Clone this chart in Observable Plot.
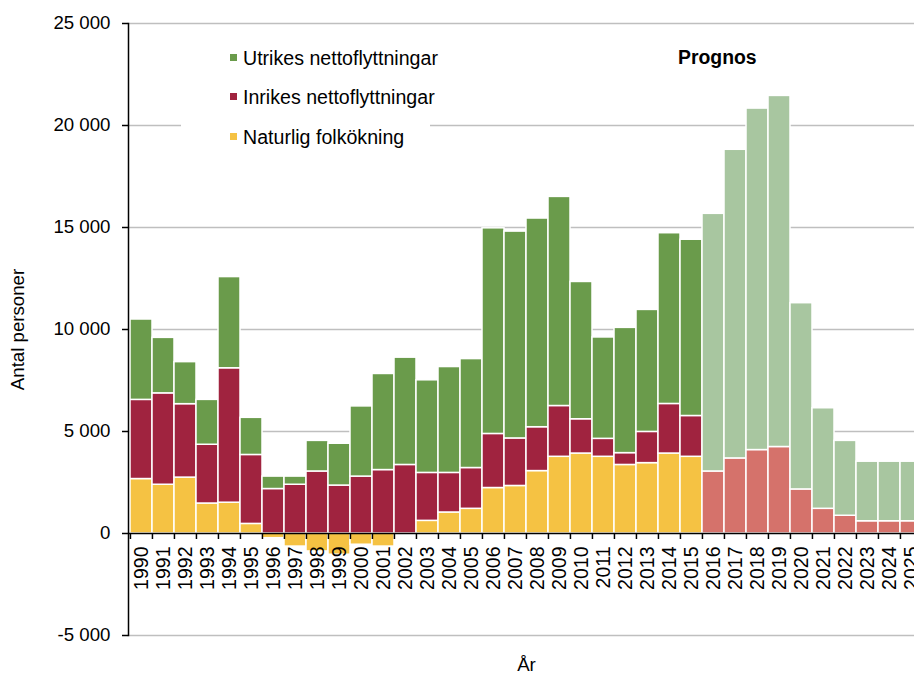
<!DOCTYPE html>
<html>
<head>
<meta charset="utf-8">
<script src="https://cdn.jsdelivr.net/npm/d3@7"></script>
<script src="https://cdn.jsdelivr.net/npm/@observablehq/plot@0.6"></script>
<style>
  html, body { margin: 0; padding: 0; background: white; overflow: hidden; }
  #wrap { position: relative; width: 924px; height: 675px; font-family: "Liberation Sans", Arial, sans-serif; }
  #legend { position: absolute; left: 181px; top: 36px; width: 249px; height: 124px; background: white; }
  .lg { position: absolute; left: 62px; font-size: 19.6px; line-height: 22px; white-space: nowrap; color: #000; }
  .sw { position: absolute; left: -13px; top: 7px; width: 7px; height: 7px; }
  #prognos { position: absolute; left: 678px; top: 46px; font-size: 19.4px; font-weight: bold; color: #000; }
</style>
</head>
<body>
<div id="wrap">
  <div id="chart"></div>
  <div id="legend"></div>
  <div id="prognos">Prognos</div>
</div>
<script>
// Categories (years)
const years = ["1990","1991","1992","1993","1994","1995","1996","1997","1998","1999",
  "2000","2001","2002","2003","2004","2005","2006","2007","2008","2009",
  "2010","2011","2012","2013","2014","2015","2016","2017","2018","2019",
  "2020","2021","2022","2023","2024","2025"];
const histYears = years.slice(0, 26);
const progYears = years.slice(26);

// Historical series 1990-2015
const naturlig = [2670, 2390, 2740, 1470, 1510, 470, -230, -640, -880, -1040,
  -550, -640, 0, 620, 1030, 1210, 2230, 2330, 3060, 3760,
  3920, 3760, 3360, 3450, 3920, 3760];
const inrikes = [3880, 4480, 3600, 2880, 6590, 3380, 2180, 2390, 3040, 2350,
  2790, 3110, 3360, 2350, 1940, 2000, 2650, 2330, 2150, 2490,
  1680, 880, 580, 1530, 2430, 2000];
const utrikes = [3940, 2720, 2060, 2200, 4470, 1820, 610, 400, 1500, 2050,
  3440, 4710, 5260, 4540, 5190, 5340, 10080, 10140, 10230, 10250,
  6730, 4970, 6140, 5980, 8370, 8640];

// Forecast series 2016-2025
const inrikesPrognos = [3040, 3680, 4090, 4240, 2160, 1210, 870, 600, 600, 600];
const utrikesPrognos = [12630, 15130, 16740, 17210, 9130, 4930, 3670, 2920, 2920, 2920];

// Series names and colours
const seriesNames = ["Naturlig folkökning", "Inrikes nettoflyttningar", "Utrikes nettoflyttningar",
  "Inrikes nettoflyttningar (prognos)", "Utrikes nettoflyttningar (prognos)"];
const seriesColors = ["#f5c243", "#a0233f", "#6a9b4b", "#d5726b", "#a8c6a0"];

// Legend entries (top to bottom)
const legendNames = ["Utrikes nettoflyttningar", "Inrikes nettoflyttningar", "Naturlig folkökning"];

// Y ticks
const yTicks = [-5000, 0, 5000, 10000, 15000, 20000, 25000];
const gridTicks = yTicks.filter(d => d !== 0);
const yDomain = [-5000, 25000];

const rows = [];
histYears.forEach((y, i) => {
  rows.push({year: y, serie: seriesNames[0], value: naturlig[i]});
  rows.push({year: y, serie: seriesNames[1], value: inrikes[i]});
  rows.push({year: y, serie: seriesNames[2], value: utrikes[i]});
});
progYears.forEach((y, i) => {
  rows.push({year: y, serie: seriesNames[3], value: inrikesPrognos[i]});
  rows.push({year: y, serie: seriesNames[4], value: utrikesPrognos[i]});
});

const fmt = d => (d < 0 ? "-" : "") + String(Math.abs(d)).replace(/\B(?=(\d{3})+(?!\d))/g, " ");

const W = 924, H = 675, mL = 128, mR = 0, mT = 23, mB = 40;
const plotH = H - mT - mB;
const zeroPx = mT + plotH * (yDomain[1] - 0) / (yDomain[1] - yDomain[0]);
const axisDy = zeroPx - (H - mB);
const bandW = (W - mL - mR) / years.length;

const chart = Plot.plot({
  width: W, height: H,
  marginLeft: mL, marginRight: mR, marginTop: mT, marginBottom: mB,
  style: {fontFamily: "'Liberation Sans', Arial, sans-serif", fontSize: "18.67px", color: "black", maxWidth: "none", background: "white"},
  x: {type: "band", domain: years, padding: 0},
  y: {domain: yDomain},
  color: {domain: seriesNames, range: seriesColors},
  marks: [
    Plot.ruleY(gridTicks, {stroke: "#bfbfbf", strokeWidth: 1.5}),
    Plot.barY(rows, {x: "year", y: "value", fill: "serie", z: "serie", order: seriesNames, stroke: "white", strokeWidth: 1.5}),
    Plot.ruleY([0], {stroke: "black", strokeWidth: 1.5}),
    Plot.frame({anchor: "left", stroke: "black", strokeWidth: 1.5}),
    Plot.axisY({ticks: yTicks, tickSize: 6, tickPadding: 12, tickFormat: fmt, label: "Antal personer", labelAnchor: "center", labelArrow: "none", labelOffset: 118, strokeWidth: 1.5}),
    Plot.axisX({tickSize: 6, tickFormat: () => "", dx: -bandW / 2, dy: axisDy, label: null, strokeWidth: 1.5}),
    Plot.axisX({tickSize: 0, tickPadding: 13, tickRotate: -90, dy: axisDy, label: null, fontSize: 19.5}),
    Plot.axisX({ticks: [], label: "År", labelAnchor: "center", labelArrow: "none", labelOffset: 35, dx: -5})
  ]
});
document.getElementById("chart").appendChild(chart);

// Legend
const legend = document.getElementById("legend");
const rowTops = [11, 50, 90];
legendNames.forEach((name, i) => {
  const el = document.createElement("div");
  el.className = "lg";
  el.style.top = rowTops[i] + "px";
  const sw = document.createElement("span");
  sw.className = "sw";
  sw.style.background = seriesColors[seriesNames.indexOf(name)];
  el.appendChild(sw);
  el.appendChild(document.createTextNode(name));
  legend.appendChild(el);
});
</script>
</body>
</html>
